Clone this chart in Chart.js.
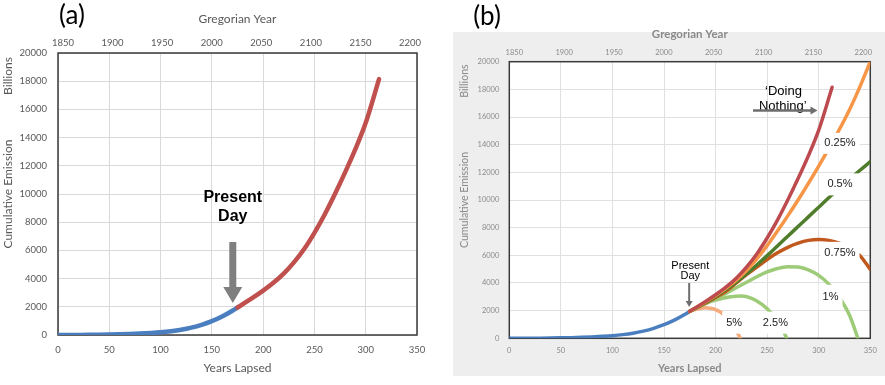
<!DOCTYPE html>
<html>
<head>
<meta charset="utf-8">
<script src="https://cdn.jsdelivr.net/npm/chart.js@4"></script>
<style>
  body { margin: 0; background: #fff; }
  #wrap { position: relative; width: 885px; height: 385px; }
  canvas { position: absolute; top: 0; }
  #chartA { left: 0; }
  #chartB { left: 445px; }
</style>
</head>
<body>
<div id="wrap">
  <canvas id="chartA" width="440" height="385"></canvas>
  <canvas id="chartB" width="440" height="385"></canvas>
</div>
<script>
// historic cumulative emission (years lapsed since 1850, billions)
const yearsPast = [0, 10, 20, 30, 40, 50, 60, 70, 80, 90, 100, 110, 120, 130, 140, 150, 160, 170, 175];
const emissionPast = [0, 3, 7, 12, 20, 32, 48, 70, 100, 140, 190, 265, 370, 520, 720, 980, 1310, 1720, 1950];

// 'doing nothing' projection
const yearsNothing = [175, 190, 200, 210, 220, 230, 240, 250, 260, 270, 280, 290, 300, 313];
const emissionNothing = [1950, 2650, 3150, 3700, 4350, 5150, 6100, 7250, 8550, 10000, 11550, 13200, 15050, 18150];

// reduction scenarios (panel b)
const yearsScen = [175, 190, 200, 210, 220, 230, 240, 250, 260, 270, 280, 290, 300, 310, 320, 330, 340, 350];
const cut025 = [1950, 2620, 3100, 3620, 4200, 4900, 5750, 6700, 7750, 8850, 10000, 11200, 12450, 13750, 15100, 16550, 18200, 20000];
const cut05 = [1950, 2580, 3030, 3520, 4060, 4650, 5300, 5980, 6680, 7380, 8080, 8780, 9480, 10180, 10850, 11500, 12150, 12770];
const cut075 = [1950, 2540, 2950, 3400, 4000, 4600, 5150, 5700, 6180, 6580, 6880, 7080, 7150, 7080, 6880, 6550, 5980, 4980];
const years1 = [175, 190, 200, 210, 220, 230, 240, 250, 260, 270, 280, 290, 300, 310, 320, 330, 338];
const cut1 = [1950, 2500, 2850, 3250, 3650, 4050, 4450, 4800, 5050, 5180, 5150, 4950, 4550, 3900, 2950, 1650, 0];
const years25 = [175, 185, 195, 205, 215, 225, 235, 245, 255, 260, 265, 269];
const cut25 = [1950, 2350, 2650, 2850, 3000, 3050, 2880, 2450, 1750, 1250, 650, 0];
const years5 = [175, 180, 185, 190, 195, 200, 205, 210, 215, 220, 224];
const cut5 = [1950, 2080, 2160, 2200, 2180, 2080, 1880, 1560, 1120, 560, 0];

// axis tick values
const yearTicks = [0, 50, 100, 150, 200, 250, 300, 350];
const calendarTicks = [1850, 1900, 1950, 2000, 2050, 2100, 2150, 2200];
const emissionTicks = [0, 2000, 4000, 6000, 8000, 10000, 12000, 14000, 16000, 18000, 20000];

Chart.defaults.font.family = 'Lato, "Liberation Sans", sans-serif';

function toPoints(xs, ys) {
    return xs.map((x, i) => ({ x: x, y: ys[i] }));
}

function line(label, xs, ys, color, width) {
    return {
        label: label,
        data: toPoints(xs, ys),
        borderColor: color,
        borderWidth: width,
        pointRadius: 0,
        fill: false,
        cubicInterpolationMode: 'monotone',
        borderCapStyle: 'round',
        borderJoinStyle: 'round',
        xAxisID: 'x',
        yAxisID: 'y'
    };
}

// shared axis setup, s holds the per panel sizes
function buildScales(s) {
    return {
        x: {
            type: 'linear', position: 'bottom',
            min: yearTicks[0], max: yearTicks[yearTicks.length - 1],
            afterBuildTicks: (scale) => { scale.ticks = yearTicks.map(v => ({ value: v })); },
            ticks: { color: s.tickColor, font: { size: s.tickSize }, padding: s.bottomTickPad, callback: v => v },
            grid: { color: s.gridColor, drawTicks: false },
            border: { display: false },
            title: { display: true, text: 'Years Lapsed', color: s.titleColor,
                     font: { size: s.xTitleSize, weight: s.xTitleWeight }, padding: { top: 0, bottom: s.xTitlePad } },
            afterFit: (scale) => { scale.height = s.bottomH; }
        },
        x2: {
            type: 'linear', position: 'top',
            min: 1845, max: 2207,
            afterBuildTicks: (scale) => { scale.ticks = calendarTicks.map(v => ({ value: v })); },
            ticks: { color: s.tickColor, font: { size: s.tickSize }, padding: s.topTickPad, callback: v => v },
            grid: { display: false, drawTicks: false },
            border: { display: false },
            title: { display: true, text: 'Gregorian Year', color: s.titleColor,
                     font: { size: s.topTitleSize, weight: s.topTitleWeight }, padding: { top: s.topTitlePad, bottom: 0 } },
            afterFit: (scale) => { scale.height = s.topH; }
        },
        y: {
            type: 'linear', position: 'left',
            min: 0, max: 20000,
            afterBuildTicks: (scale) => { scale.ticks = emissionTicks.map(v => ({ value: v })); },
            ticks: { color: s.tickColor, font: { size: s.tickSize }, padding: s.yTickPad, callback: v => v },
            grid: { color: s.gridColor, drawTicks: false },
            border: { display: false },
            title: { display: true, text: 'Cumulative Emission', color: s.titleColor,
                     font: { size: s.yTitleSize }, padding: { top: s.yTitlePad, bottom: 0 } },
            afterFit: (scale) => { scale.width = s.yWidth; }
        }
    };
}

function rotatedText(ctx, text, x, y) {
    ctx.save();
    ctx.translate(x, y);
    ctx.rotate(-Math.PI / 2);
    ctx.fillText(text, 0, 0);
    ctx.restore();
}

// white box behind a label so the curve looks broken
function boxLabel(ctx, text, cx, cy, padX, h) {
    const w = ctx.measureText(text).width + 2 * padX;
    ctx.fillStyle = '#ffffff';
    ctx.fillRect(cx - w / 2, cy - h / 2, w, h);
    ctx.fillStyle = '#1a1a1a';
    ctx.fillText(text, cx, cy);
}

// ---------- panel a ----------
const panelAPlugin = {
    id: 'panelA',
    beforeDatasetsDraw(chart) {
        const { ctx, chartArea: a } = chart;
        ctx.save();
        ctx.strokeStyle = '#3a3a3a';
        ctx.lineWidth = 1.5;
        ctx.strokeRect(a.left, a.top, a.width, a.height);
        ctx.restore();
    },
    afterDatasetsDraw(chart) {
        const { ctx, scales: { x, y } } = chart;
        ctx.save();
        ctx.textAlign = 'center';
        ctx.textBaseline = 'middle';
        // panel letter
        ctx.fillStyle = '#000';
        ctx.font = '26px Lato';
        ctx.fillText('(a)', 72, 16);
        // display unit
        ctx.fillStyle = '#595959';
        ctx.font = '12px Lato';
        rotatedText(ctx, 'Billions', 8.5, 76);
        // present day note
        const px = x.getPixelForValue(170.4);
        ctx.fillStyle = '#000';
        ctx.font = 'bold 16px "Liberation Sans"';
        ctx.fillText('Present', px, y.getPixelForValue(9716));
        ctx.fillText('Day', px, y.getPixelForValue(8369));
        // fat arrow
        const top = y.getPixelForValue(6596), base = y.getPixelForValue(3404), tip = y.getPixelForValue(2270);
        ctx.fillStyle = '#7f7f7f';
        ctx.beginPath();
        ctx.moveTo(px - 3.5, top);
        ctx.lineTo(px + 3.5, top);
        ctx.lineTo(px + 3.5, base);
        ctx.lineTo(px + 9.5, base);
        ctx.lineTo(px, tip);
        ctx.lineTo(px - 9.5, base);
        ctx.lineTo(px - 3.5, base);
        ctx.closePath();
        ctx.fill();
        ctx.restore();
    }
};

new Chart(document.getElementById('chartA').getContext('2d'), {
    type: 'line',
    data: {
        datasets: [
            line('Doing Nothing', yearsNothing, emissionNothing, '#c0504d', 4.5),
            line('Past', yearsPast, emissionPast, '#4a7ebf', 4.5)
        ]
    },
    options: {
        responsive: false,
        animation: false,
        events: [],
        layout: { padding: { left: 0, right: 23, top: 0, bottom: 0 } },
        plugins: { legend: { display: false }, tooltip: { enabled: false } },
        scales: buildScales({
            tickColor: '#595959', tickSize: 9.5, gridColor: '#d9d9d9', titleColor: '#595959',
            bottomTickPad: 9.3, topTickPad: 4.3, yTickPad: 11,
            xTitleSize: 12, xTitleWeight: 'normal', xTitlePad: 9.8,
            topTitleSize: 12, topTitleWeight: 'normal', topTitlePad: 11.8,
            yTitleSize: 12, yTitlePad: 1.3,
            bottomH: 50, topH: 53, yWidth: 58
        })
    },
    plugins: [panelAPlugin]
});

// ---------- panel b ----------
const panelBPlugin = {
    id: 'panelB',
    beforeDraw(chart) {
        const { ctx, chartArea: a } = chart;
        ctx.save();
        ctx.fillStyle = '#eeeeee';
        ctx.fillRect(8, 32, 432, 344);
        ctx.fillStyle = '#ffffff';
        ctx.fillRect(a.left, a.top, a.width, a.height);
        ctx.restore();
    },
    beforeDatasetsDraw(chart) {
        const { ctx, chartArea: a } = chart;
        ctx.save();
        ctx.strokeStyle = '#3a3a3a';
        ctx.lineWidth = 1.5;
        ctx.strokeRect(a.left, a.top, a.width, a.height);
        ctx.restore();
    },
    afterDatasetsDraw(chart) {
        const { ctx, scales: { x, y } } = chart;
        ctx.save();
        ctx.textAlign = 'center';
        ctx.textBaseline = 'middle';
        ctx.fillStyle = '#000';
        ctx.font = '26px Lato';
        ctx.fillText('(b)', 42, 17);
        ctx.fillStyle = '#8a8a8a';
        ctx.font = '10.6px Lato';
        rotatedText(ctx, 'Billions', 20, 81);

        // scenario labels
        ctx.font = '11px "Liberation Sans"';
        boxLabel(ctx, '0.25%', x.getPixelForValue(320.6), y.getPixelForValue(14095), 4, 21);
        boxLabel(ctx, '0.5%', x.getPixelForValue(320.6), y.getPixelForValue(11131), 7, 22);
        boxLabel(ctx, '0.75%', x.getPixelForValue(320.6), y.getPixelForValue(6144), 4, 23);
        boxLabel(ctx, '1%', x.getPixelForValue(311.5), y.getPixelForValue(3000), 4, 24);
        boxLabel(ctx, '5%', x.getPixelForValue(218), y.getPixelForValue(1128), 4, 22);
        boxLabel(ctx, '2.5%', x.getPixelForValue(258), y.getPixelForValue(1128), 4, 22);

        // doing nothing note and arrow
        ctx.fillStyle = '#000';
        ctx.font = '13px "Liberation Sans"';
        ctx.fillText('\u2018Doing', x.getPixelForValue(265.8), y.getPixelForValue(17824));
        ctx.fillText('Nothing\u2019', x.getPixelForValue(265.2), y.getPixelForValue(16740));
        const ay = y.getPixelForValue(16470);
        const ax0 = x.getPixelForValue(236.3), ax1 = x.getPixelForValue(298.8);
        ctx.strokeStyle = '#6e6e6e';
        ctx.fillStyle = '#6e6e6e';
        ctx.lineWidth = 2.5;
        ctx.beginPath();
        ctx.moveTo(ax0, ay);
        ctx.lineTo(ax1 - 6, ay);
        ctx.stroke();
        ctx.beginPath();
        ctx.moveTo(ax1, ay);
        ctx.lineTo(ax1 - 7, ay - 4);
        ctx.lineTo(ax1 - 7, ay + 4);
        ctx.closePath();
        ctx.fill();

        // present day note and arrow
        const px = x.getPixelForValue(175.5);
        ctx.fillStyle = '#000';
        ctx.font = '11px "Liberation Sans"';
        ctx.fillText('Present', px, y.getPixelForValue(5226));
        ctx.fillText('Day', px, y.getPixelForValue(4503));
        const ax = x.getPixelForValue(174.4);
        const t0 = y.getPixelForValue(3997), t1 = y.getPixelForValue(2262);
        ctx.lineWidth = 2;
        ctx.beginPath();
        ctx.moveTo(ax, t0);
        ctx.lineTo(ax, t1 - 5);
        ctx.stroke();
        ctx.fillStyle = '#6e6e6e';
        ctx.beginPath();
        ctx.moveTo(ax, t1);
        ctx.lineTo(ax - 3.5, t1 - 6);
        ctx.lineTo(ax + 3.5, t1 - 6);
        ctx.closePath();
        ctx.fill();
        ctx.restore();
    }
};

new Chart(document.getElementById('chartB').getContext('2d'), {
    type: 'line',
    data: {
        datasets: [
            line('Doing Nothing', yearsNothing, emissionNothing, '#bd4a4f', 3.5),
            line('0.25%', yearsScen, cut025, '#f79646', 3.5),
            line('0.5%', yearsScen, cut05, '#4f7d2c', 3.5),
            line('0.75%', yearsScen, cut075, '#c1581d', 3.5),
            line('1%', years1, cut1, '#9dcb78', 3.5),
            line('2.5%', years25, cut25, '#9dcb78', 3.5),
            line('5%', years5, cut5, '#f4ab7e', 3.5),
            line('Past', yearsPast, emissionPast, '#4a7ebf', 3.5)
        ]
    },
    options: {
        responsive: false,
        animation: false,
        events: [],
        layout: { padding: { left: 0, right: 11.7, top: 0, bottom: 0 } },
        plugins: { legend: { display: false }, tooltip: { enabled: false } },
        scales: buildScales({
            tickColor: '#8a8a8a', tickSize: 7.5, gridColor: '#e0e0e0', titleColor: '#8a8a8a',
            bottomTickPad: 8.2, topTickPad: 4.2, yTickPad: 10,
            xTitleSize: 11, xTitleWeight: 'bold', xTitlePad: 10.4,
            topTitleSize: 11.5, topTitleWeight: 'bold', topTitlePad: 27.1,
            yTitleSize: 10.6, yTitlePad: 13.6,
            bottomH: 46.7, topH: 61.7, yWidth: 64.3
        })
    },
    plugins: [panelBPlugin]
});
</script>
</body>
</html>
